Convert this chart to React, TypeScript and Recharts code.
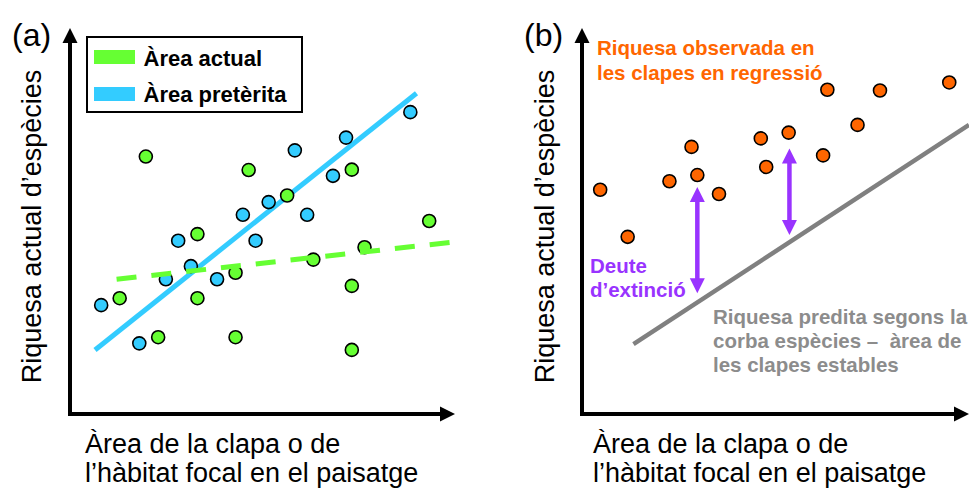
import React from "react";
import { ScatterChart, Scatter, XAxis, YAxis, ReferenceLine, Legend } from "recharts";

const FONT = '"Liberation Sans", Arial, Helvetica, sans-serif';

// schematic units, both axes 0..100 (no ticks in the figure)

// panel (a)
const actualX = [12.9, 19.7, 22.9, 33.1, 33.1, 43.0, 43.0, 46.4, 56.4, 63.2, 73.2, 73.2, 73.2, 76.5, 93.3];
const actualY = [30.0, 66.7, 19.9, 46.6, 30.0, 36.6, 19.9, 63.2, 56.6, 40.0, 63.3, 33.2, 16.6, 43.2, 50.0];
const pastX = [8.1, 18.0, 24.9, 28.1, 31.4, 38.2, 44.9, 48.2, 51.6, 58.4, 61.6, 68.3, 71.7, 88.4];
const pastY = [28.2, 18.3, 34.9, 44.9, 38.3, 34.9, 51.6, 44.9, 54.9, 68.3, 51.6, 61.7, 71.6, 78.2];
const pastFitX = [6.5, 90.0];
const pastFitY = [16.6, 83.1];
const actualFitX = [12.1, 100];
const actualFitY = [34.9, 44.6];

// panel (b)
const obsX = [4.7, 11.8, 22.6, 28.3, 29.8, 35.4, 46.2, 47.6, 53.4, 62.3, 63.4, 71.2, 77.0, 94.9];
const obsY = [58.1, 45.9, 60.3, 69.2, 61.9, 57.0, 71.4, 64.0, 72.9, 67.0, 84.0, 74.9, 83.8, 85.9];
const predX = [13.3, 100];
const predY = [18.1, 74.9];
const debtX = [29.8, 53.6];
const debtTop = [58.8, 68.8];
const debtBottom = [31.3, 46.4];

const GREEN = "#66FF33";
const BLUE = "#33CCFF";
const ORANGE = "#FF6600";
const PURPLE = "#9933FF";
const GREY = "#808080";

const zip = (xs: number[], ys: number[]) => xs.map((x, i) => ({ x, y: ys[i] }));

const actualPts = zip(actualX, actualY);
const pastPts = zip(pastX, pastY);
const obsPts = zip(obsX, obsY);

const axisHeads = [
  { x: 0, y: 100, dir: "up" },
  { x: 100, y: 0, dir: "right" },
];
const debtHeads = debtX.flatMap((x, i) => [
  { x, y: debtTop[i], dir: "up" },
  { x, y: debtBottom[i], dir: "down" },
]);

const Dot = (props: any) => {
  const { cx, cy, fill } = props;
  if (cx == null || cy == null) return <g />;
  return <circle cx={cx} cy={cy} r={6.5} fill={fill} stroke="#000" strokeWidth={1.6} />;
};

const NoDot = () => <g />;

const Head = (props: any) => {
  const { cx, cy, fill, payload } = props;
  if (cx == null || cy == null) return <g />;
  const l = 15;
  const w = 7.5;
  let pts = "";
  if (payload.dir === "up") pts = `${cx},${cy} ${cx - w},${cy + l} ${cx + w},${cy + l}`;
  if (payload.dir === "down") pts = `${cx},${cy} ${cx - w},${cy - l} ${cx + w},${cy - l}`;
  if (payload.dir === "right") pts = `${cx},${cy} ${cx - l},${cy - w} ${cx - l},${cy + w}`;
  return <polygon points={pts} fill={fill} />;
};

const LegendBox = (props: any) => {
  const items = (props.payload || []).filter((p: any) => p.type !== "none");
  return (
    <div
      style={{
        position: "relative",
        width: 213,
        height: 73,
        border: "2px solid #000",
        background: "#fff",
        fontFamily: FONT,
        fontWeight: "bold",
        fontSize: 22,
        lineHeight: "22px",
        color: "#000",
        boxSizing: "content-box",
      }}
    >
      {items.map((p: any, i: number) => (
        <React.Fragment key={i}>
          <span
            style={{ position: "absolute", left: 5.5, top: 12 + i * 37, width: 41, height: 13.5, background: p.color }}
          />
          <span style={{ position: "absolute", left: 55.5, top: 10.3 + i * 36, whiteSpace: "nowrap" }}>{p.value}</span>
        </React.Fragment>
      ))}
    </div>
  );
};

export default function App() {
  const axisLine = { stroke: "#000", strokeWidth: 4, strokeLinecap: "square" as const };
  return (
    <div style={{ position: "absolute", left: 0, top: 0, width: 969, height: 496, background: "#fff", overflow: "hidden" }}>
      <div style={{ position: "absolute", left: 0, top: 0 }}>
        <ScatterChart width={485} height={496} margin={{ top: 28, right: 30, bottom: 82, left: 70 }}>
          <XAxis type="number" dataKey="x" domain={[0, 100]} hide />
          <YAxis type="number" dataKey="y" domain={[0, 100]} hide />
          <ReferenceLine segment={[{ x: 0, y: 0 }, { x: 0, y: 96 }]} {...axisLine} />
          <ReferenceLine segment={[{ x: 0, y: 0 }, { x: 96, y: 0 }]} {...axisLine} />
          <Scatter data={axisHeads} fill="#000" shape={Head} legendType="none" isAnimationActive={false} />
          <Scatter
            data={zip(pastFitX, pastFitY)}
            fill={BLUE}
            line={{ stroke: BLUE, strokeWidth: 5 }}
            shape={NoDot}
            legendType="none"
            isAnimationActive={false}
          />
          <Scatter name="Àrea actual" data={actualPts} fill={GREEN} shape={Dot} isAnimationActive={false} />
          <Scatter name="Àrea pretèrita" data={pastPts} fill={BLUE} shape={Dot} isAnimationActive={false} />
          <Scatter
            data={zip(actualFitX, actualFitY)}
            fill={GREEN}
            line={{ stroke: GREEN, strokeWidth: 5, strokeDasharray: "20 15" }}
            shape={NoDot}
            legendType="none"
            isAnimationActive={false}
          />
          <Legend
            layout="horizontal"
            verticalAlign="middle"
            align="center"
            wrapperStyle={{ left: 86, top: 36, width: 217 }}
            content={LegendBox}
          />
        </ScatterChart>
      </div>
      <div style={{ position: "absolute", left: 485, top: 0 }}>
        <ScatterChart width={484} height={496} margin={{ top: 28, right: 0, bottom: 82, left: 97 }}>
          <XAxis type="number" dataKey="x" domain={[0, 100]} hide />
          <YAxis type="number" dataKey="y" domain={[0, 100]} hide />
          <ReferenceLine segment={[{ x: 0, y: 0 }, { x: 0, y: 96 }]} {...axisLine} />
          <ReferenceLine segment={[{ x: 0, y: 0 }, { x: 96, y: 0 }]} {...axisLine} />
          <Scatter data={axisHeads} fill="#000" shape={Head} legendType="none" isAnimationActive={false} />
          <Scatter
            data={zip(predX, predY)}
            fill={GREY}
            line={{ stroke: GREY, strokeWidth: 4.5 }}
            shape={NoDot}
            legendType="none"
            isAnimationActive={false}
          />
          {debtX.map((x, i) => (
            <ReferenceLine
              key={i}
              segment={[{ x, y: debtTop[i] - 3 }, { x, y: debtBottom[i] + 3 }]}
              stroke={PURPLE}
              strokeWidth={4.5}
            />
          ))}
          <Scatter data={debtHeads} fill={PURPLE} shape={Head} legendType="none" isAnimationActive={false} />
          <Scatter name="Riquesa observada" data={obsPts} fill={ORANGE} shape={Dot} isAnimationActive={false} />
        </ScatterChart>
      </div>
      <svg
        width={969}
        height={496}
        style={{ position: "absolute", left: 0, top: 0, pointerEvents: "none", fontFamily: FONT }}
      >
        <text x={12} y={46} fontSize={32}>(a)</text>
        <text x={524} y={46} fontSize={32}>(b)</text>
        <text transform="translate(41,226.5) rotate(-90)" textAnchor="middle" fontSize={27}>Riquesa actual d’espècies</text>
        <text transform="translate(554,226.5) rotate(-90)" textAnchor="middle" fontSize={27}>Riquesa actual d’espècies</text>
        <text x={85} y={453} fontSize={27}>Àrea de la clapa o de</text>
        <text x={85} y={482} fontSize={27}>l’hàbitat focal en el paisatge</text>
        <text x={593} y={453} fontSize={27}>Àrea de la clapa o de</text>
        <text x={593} y={482} fontSize={27}>l’hàbitat focal en el paisatge</text>
        <g fontWeight="bold" fontSize={20.5}>
          <text x={597} y={55} fill={ORANGE}>Riquesa observada en</text>
          <text x={597} y={80} fill={ORANGE}>les clapes en regressió</text>
          <text x={590} y={273} fill={PURPLE}>Deute</text>
          <text x={590} y={297} fill={PURPLE}>d’extinció</text>
          <text x={713} y={324} fill="#8C8C8C">Riquesa predita segons la</text>
          <text x={713} y={348} fill="#8C8C8C" style={{ whiteSpace: "pre" }}>corba espècies –  àrea de</text>
          <text x={713} y={372} fill="#8C8C8C">les clapes estables</text>
        </g>
      </svg>
    </div>
  );
}
